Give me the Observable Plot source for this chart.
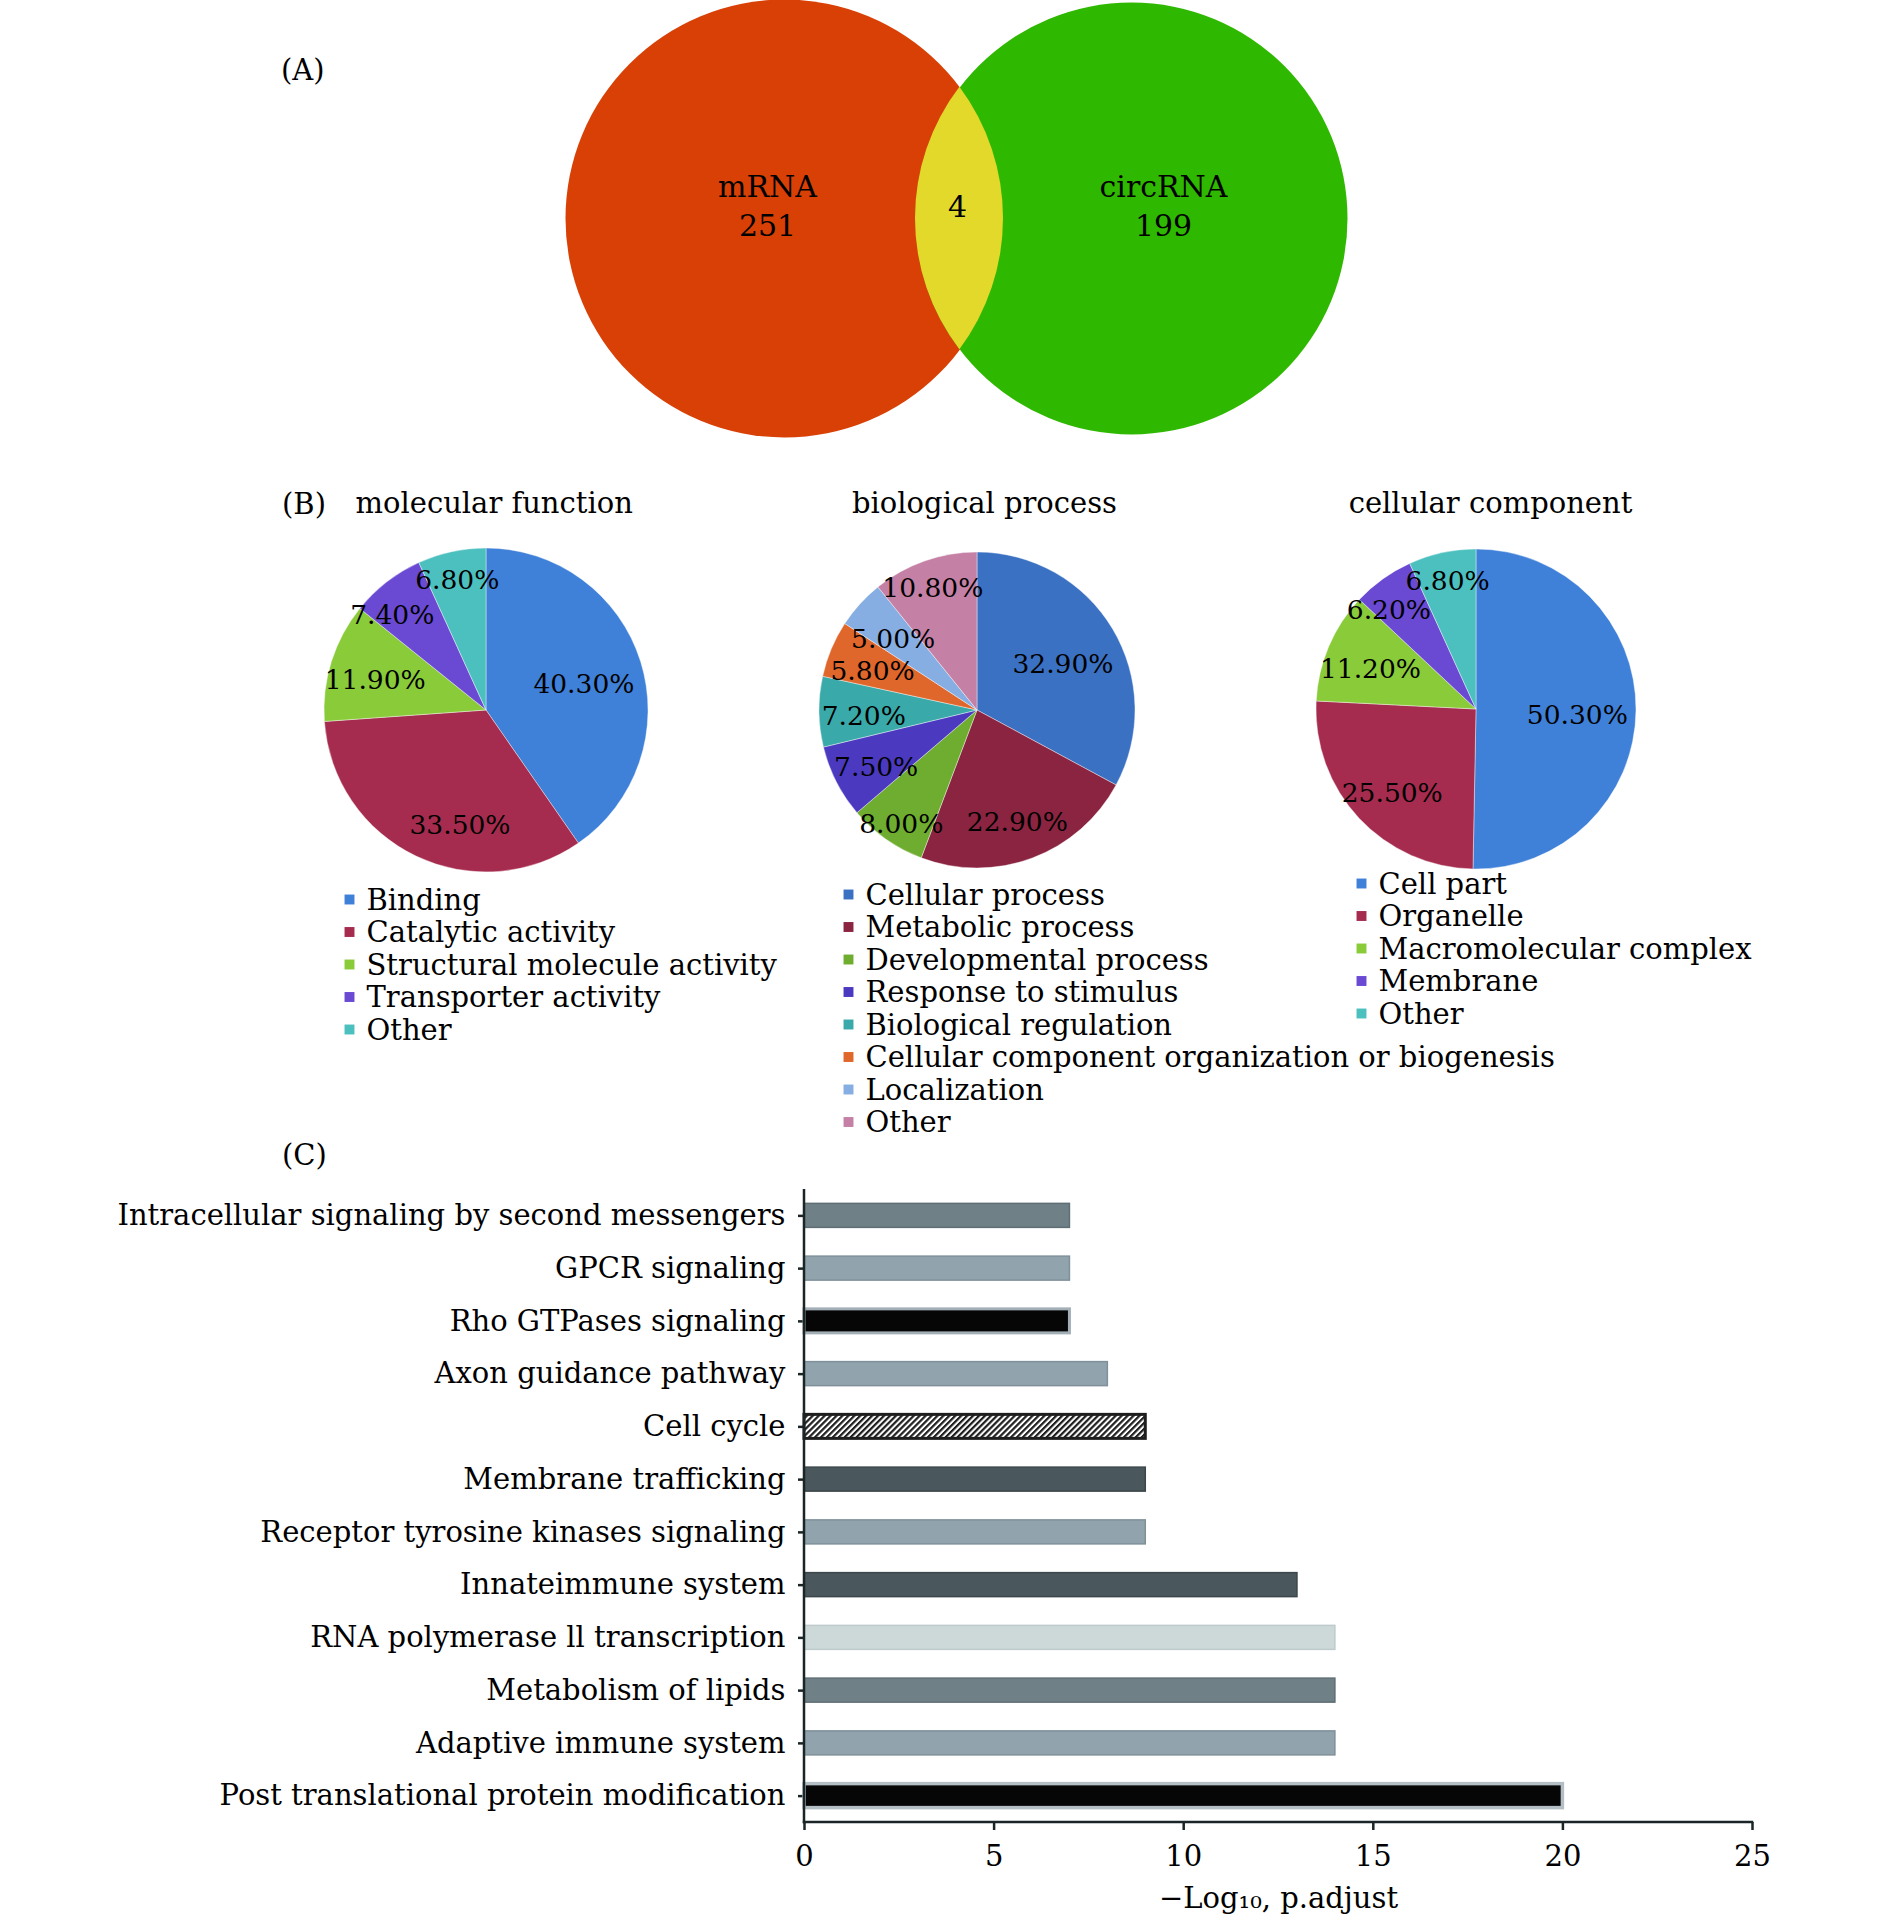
<!DOCTYPE html>
<html>
<head>
<meta charset="utf-8">
<script src="https://cdn.jsdelivr.net/npm/d3@7"></script>
<script src="https://cdn.jsdelivr.net/npm/@observablehq/plot@0.6"></script>
<style>
html, body { margin: 0; padding: 0; background: #fff; }
#fig { position: relative; width: 1890px; height: 1928px; background: #fff; overflow: hidden; font-family: "DejaVu Serif", serif; color: #000; }
#fig .panel { position: absolute; left: 0; }
#fig .plabel { position: absolute; font-size: 29px; line-height: 30px; color: #000; white-space: nowrap; }
.bars g[aria-label*="axis"] line, .bars g[aria-label*="axis"] path { stroke-width: 2.5px; stroke: #1b2426; }
</style>
</head>
<body>
<div id="fig"></div>
<script>
// ---------------- DATA ----------------
// (A) Venn
const vennSets = ["mRNA", "circRNA"];
const vennCounts = [251, 199];
const vennShared = 4;

// (B) GO pies
const mfCategories = ["Binding", "Catalytic activity", "Structural molecule activity", "Transporter activity", "Other"];
const mfValues = [40.3, 33.5, 11.9, 7.4, 6.8];
const bpCategories = ["Cellular process", "Metabolic process", "Developmental process", "Response to stimulus", "Biological regulation", "Cellular component organization or biogenesis", "Localization", "Other"];
const bpValues = [32.9, 22.9, 8.0, 7.5, 7.2, 5.8, 5.0, 10.8];
const ccCategories = ["Cell part", "Organelle", "Macromolecular complex", "Membrane", "Other"];
const ccValues = [50.3, 25.5, 11.2, 6.2, 6.8];
const pieTitles = ["molecular function", "biological process", "cellular component"];

// (C) Reactome pathways
const pathways = [
  "Intracellular signaling by second messengers",
  "GPCR signaling",
  "Rho GTPases signaling",
  "Axon guidance pathway",
  "Cell cycle",
  "Membrane trafficking",
  "Receptor tyrosine kinases signaling",
  "Innateimmune system",
  "RNA polymerase ll transcription",
  "Metabolism of lipids",
  "Adaptive immune system",
  "Post translational protein modification"
];
const pathwayValues = [7, 7, 7, 8, 9, 9, 9, 13, 14, 14, 14, 20];
const xTicks = [0, 5, 10, 15, 20, 25];
const xLabel = "\u2212Log\u2081\u2080, p.adjust";

// ---------------- STYLES ----------------
const FONT = '"DejaVu Serif", serif';
const vennColors = ["#D84006", "#2FB800"];
const vennSharedColor = "#E2D92B";
const mfColors = ["#3F80D8", "#A62C4F", "#8ACB3A", "#6A4AD3", "#4CC0BE"];
const bpColors = ["#3B71C3", "#8B2441", "#6EAD2F", "#4B3AC0", "#3AA9A9", "#E0672B", "#87AEE2", "#C580A6"];
const ccColors = ["#3F80D8", "#A62C4F", "#8ACB3A", "#6A4AD3", "#4CC0BE"];
const barFills = ["#6F8187", "#91A3AD", "#060606", "#91A3AD", "url(#hatch)", "#4A575C", "#91A3AD", "#4A575C", "#CDD9D9", "#6F8187", "#91A3AD", "#060606"];
const barStrokes = ["#5E6E74", "#7F909A", "#A3AFB6", "#7F909A", "#1E1E1E", "#3C474B", "#7F909A", "#3C474B", "#BFCBCB", "#5E6E74", "#7F909A", "#B3BEC5"];
const barStrokeWidths = [1.5, 1.5, 3, 1.5, 3, 1.5, 1.5, 1.5, 1.5, 1.5, 1.5, 3.5];

const fig = document.getElementById("fig");
function place(node, top) {
  node.classList.add("panel");
  node.style.top = top + "px";
  fig.appendChild(node);
  return node;
}
const sxOf = s => (s && typeof s.x === "function") ? s.x : (v => v);
const syOf = s => (s && typeof s.y === "function") ? s.y : (v => v);

// ---------------- (A) VENN ----------------
const vennCx = [784, 1131], vennCy = 218, vennR = [219, 216], vennLabelX = [767, 1163];
const vennRows = vennSets.map((name, i) => ({name, count: vennCounts[i], color: vennColors[i], cx: vennCx[i], r: vennR[i], lx: vennLabelX[i]}));
const [va, vb] = vennRows;
const lensLeft = vb.cx - vb.r, lensRight = va.cx + va.r;

function lensMark() {
  return (index, scales) => {
    const sx = sxOf(scales), sy = syOf(scales);
    const d = vb.cx - va.cx;
    const t = (d * d + va.r * va.r - vb.r * vb.r) / (2 * d);
    const h = Math.sqrt(va.r * va.r - t * t);
    const px = va.cx + t;
    const p = `M${sx(px)},${sy(vennCy - h)}A${va.r},${va.r} 0 0 1 ${sx(px)},${sy(vennCy + h)}A${vb.r},${vb.r} 0 0 1 ${sx(px)},${sy(vennCy - h)}Z`;
    return d3.create("svg:path").attr("d", p).attr("fill", vennSharedColor).node();
  };
}

const vennPlot = Plot.plot({
  width: 1890, height: 440, margin: 0,
  style: {fontFamily: FONT, fontSize: "30px", color: "#000", background: "transparent"},
  x: {type: "identity", axis: null},
  y: {type: "identity", axis: null},
  marks: [
    ...vennRows.map(d => Plot.dot([d], {x: "cx", y: () => vennCy, r: d.r, fill: d.color, stroke: "none"})),
    lensMark(),
    Plot.text(vennRows, {x: "lx", y: () => 204, text: d => `${d.name}\n${d.count}`, fontSize: 30, lineHeight: 1.3, fill: "#000"}),
    Plot.text([vennShared], {x: () => (lensLeft + lensRight) / 2 - 2, y: () => 207, text: d => String(d), fontSize: 30, fill: "#000"})
  ]
});
place(vennPlot, 0);

// ---------------- (B) PIES ----------------
const B_TOP = 440;
const pieDefs = [
  {cats: mfCategories, vals: mfValues, colors: mfColors, title: pieTitles[0], cx: 486, cy: 270, R: 162, titleX: 355, anchor: "start", legendX: 349, legendBase: 469},
  {cats: bpCategories, vals: bpValues, colors: bpColors, title: pieTitles[1], cx: 977, cy: 270, R: 158, titleX: 984, anchor: "middle", legendX: 848, legendBase: 464},
  {cats: ccCategories, vals: ccValues, colors: ccColors, title: pieTitles[2], cx: 1476, cy: 269, R: 160, titleX: 1490, anchor: "middle", legendX: 1361, legendBase: 453}
];

function pieMark(P) {
  return (index, scales) => {
    const sx = sxOf(scales), sy = syOf(scales);
    const arcs = d3.pie().sort(null).value(d => d)(P.vals);
    const arc = d3.arc().innerRadius(0).outerRadius(P.R);
    const g = d3.create("svg:g").attr("transform", `translate(${sx(P.cx)},${sy(P.cy)})`);
    g.selectAll("path").data(arcs).join("path")
      .attr("d", arc)
      .attr("fill", (d, i) => P.colors[i])
      .attr("stroke", "#ffffff").attr("stroke-opacity", 0.4).attr("stroke-width", 1);
    return g.node();
  };
}

const pctLabels = [], legendRows = [];
const fmt = d3.format(".2f");
pieDefs.forEach(P => {
  const total = d3.sum(P.vals);
  const arcs = d3.pie().sort(null).value(d => d)(P.vals);
  arcs.forEach((a, i) => {
    let ang = (a.startAngle + a.endAngle) / 2;
    const span = a.endAngle - a.startAngle;
    const frac = P.vals[i] / total;
    const deg = ang * 180 / Math.PI;
    let k = 0.72;
    if (i === 0) k = 0.63;
    else if (frac > 0.3) { k = 0.70; ang = a.startAngle + 0.4 * span; }
    else if (frac < 0.1 && deg > 180 && deg < 230) k = 0.84;
    else if (frac < 0.2 && deg > 315) {
      k = 0.85;
      if (deg < 335) ang = a.startAngle + 0.3 * span;
    }
    pctLabels.push({x: P.cx + k * P.R * Math.sin(ang), y: P.cy - k * P.R * Math.cos(ang), text: fmt(P.vals[i]) + "%"});
  });
  P.cats.forEach((c, i) => {
    legendRows.push({name: c, color: P.colors[i], sx: P.legendX, sy: P.legendBase - 10 + i * 32.5, tx: P.legendX + 17, ty: P.legendBase + i * 32.5});
  });
});

const piePlot = Plot.plot({
  width: 1890, height: 700, margin: 0,
  style: {fontFamily: FONT, fontSize: "29px", color: "#000", background: "transparent"},
  x: {type: "identity", axis: null},
  y: {type: "identity", axis: null},
  color: {type: "identity"},
  marks: [
    ...pieDefs.map(pieMark),
    Plot.text(pctLabels, {x: "x", y: "y", dy: 5, text: "text", fontSize: 26.5, fill: "#000"}),
    Plot.text(pieDefs.filter(p => p.anchor === "start"), {x: "titleX", y: () => 72, text: "title", textAnchor: "start", lineAnchor: "bottom", fontSize: 29, fill: "#000"}),
    Plot.text(pieDefs.filter(p => p.anchor === "middle"), {x: "titleX", y: () => 72, text: "title", textAnchor: "middle", lineAnchor: "bottom", fontSize: 29, fill: "#000"}),
    Plot.dot(legendRows, {x: "sx", y: "sy", fill: "color", symbol: "square", r: 5.6, stroke: "none"}),
    Plot.text(legendRows, {x: "tx", y: "ty", text: "name", textAnchor: "start", lineAnchor: "bottom", fontSize: 29, fill: "#000"})
  ]
});
place(piePlot, B_TOP);

// ---------------- (C) BARS ----------------
const barRows = pathways.map((name, i) => ({name, value: pathwayValues[i], fill: barFills[i], stroke: barStrokes[i], sw: barStrokeWidths[i]}));

function hatchDefs() {
  return () => {
    const defs = d3.create("svg:defs");
    const p = defs.append("pattern").attr("id", "hatch").attr("patternUnits", "userSpaceOnUse")
      .attr("width", 4.2).attr("height", 4.2).attr("patternTransform", "rotate(45)");
    p.append("rect").attr("width", 4.2).attr("height", 4.2).attr("fill", "#ffffff");
    p.append("rect").attr("width", 2.2).attr("height", 4.2).attr("fill", "#1e1e1e");
    return defs.node();
  };
}
function axisLines() {
  return (index, scales, values, dimensions) => {
    const {width, height, marginLeft, marginRight, marginTop, marginBottom} = dimensions;
    const g = d3.create("svg:g").attr("stroke", "#1b2426").attr("stroke-width", 2.5).attr("fill", "none");
    g.append("line").attr("x1", marginLeft).attr("x2", marginLeft).attr("y1", marginTop).attr("y2", height - marginBottom + 1.25);
    g.append("line").attr("x1", marginLeft - 1.25).attr("x2", width - marginRight + 1.25).attr("y1", height - marginBottom).attr("y2", height - marginBottom);
    return g.node();
  };
}

const barPlot = Plot.plot({
  width: 1890, height: 788,
  marginLeft: 804, marginRight: 138, marginTop: 49, marginBottom: 106,
  style: {fontFamily: FONT, fontSize: "29px", color: "#000", background: "transparent"},
  x: {domain: [0, 25], ticks: xTicks, tickSize: 8, tickPadding: 15, label: null},
  y: {domain: pathways, paddingInner: 0.545, paddingOuter: 0.2725, round: false, tickSize: 6, tickPadding: 13, label: null},
  color: {type: "identity"},
  marks: [
    hatchDefs(),
    Plot.barX(barRows, {x: "value", y: "name", fill: "fill", stroke: "stroke", strokeWidth: "sw"}),
    axisLines(),
    Plot.text([xLabel], {frameAnchor: "bottom", dy: 85, text: d => d, fontSize: 29, fill: "#000"})
  ]
});
barPlot.classList.add("bars");
place(barPlot, 1140);

// ---------------- PANEL LETTERS ----------------
[["(A)", 281, 55], ["(B)", 282, 489], ["(C)", 282, 1140]].forEach(([t, l, tp]) => {
  const d = document.createElement("div");
  d.className = "plabel";
  d.textContent = t;
  d.style.left = l + "px";
  d.style.top = tp + "px";
  fig.appendChild(d);
});
</script>
</body>
</html>
